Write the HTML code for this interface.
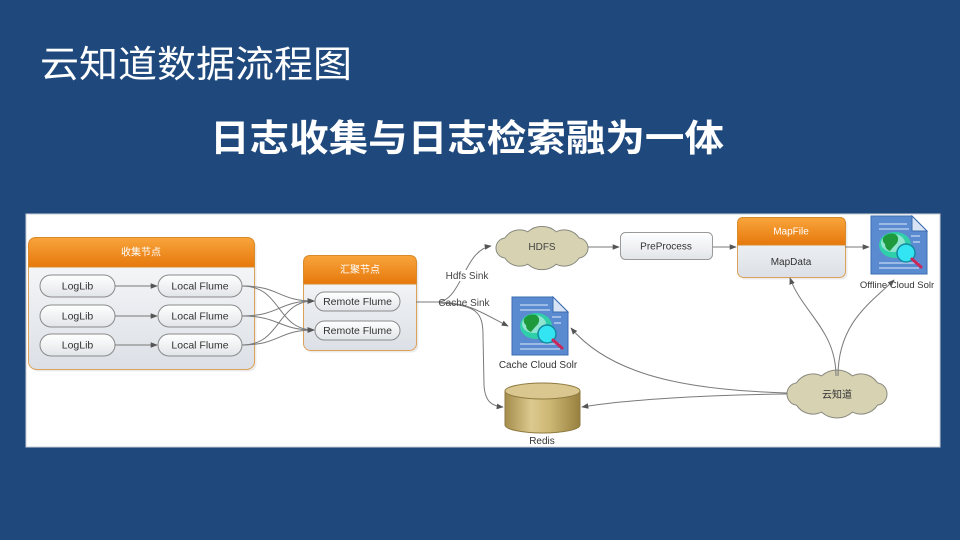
<!DOCTYPE html>
<html>
<head>
<meta charset="utf-8">
<style>
html,body{margin:0;padding:0;background:#1F497D;}
body{width:960px;height:540px;overflow:hidden;}
svg{display:block;}
.t{font-family:"Liberation Sans","Noto Sans CJK SC",sans-serif;}
</style>
</head>
<body>
<svg width="960" height="540" viewBox="0 0 960 540" xmlns="http://www.w3.org/2000/svg">
<defs>
  <linearGradient id="og" x1="0" y1="0" x2="0" y2="1">
    <stop offset="0" stop-color="#f8a53c"/>
    <stop offset="1" stop-color="#e6780c"/>
  </linearGradient>
  <linearGradient id="bg" x1="0" y1="0" x2="0" y2="1">
    <stop offset="0" stop-color="#fafbfc"/>
    <stop offset="1" stop-color="#dce0e6"/>
  </linearGradient>
  <linearGradient id="pg" x1="0" y1="0" x2="0" y2="1">
    <stop offset="0" stop-color="#ffffff"/>
    <stop offset="1" stop-color="#e2e5e9"/>
  </linearGradient>
  <linearGradient id="cyl" x1="0" y1="0" x2="1" y2="0">
    <stop offset="0" stop-color="#a48c4c"/>
    <stop offset="0.35" stop-color="#dcc98e"/>
    <stop offset="0.6" stop-color="#cdb774"/>
    <stop offset="1" stop-color="#98803f"/>
  </linearGradient>
  <marker id="ar" viewBox="0 0 10 10" refX="9" refY="5" markerWidth="7" markerHeight="7" orient="auto" markerUnits="userSpaceOnUse">
    <path d="M0,1 L10,5 L0,9 z" fill="#555"/>
  </marker>
  <g id="solr">
    <path d="M0,0 H41 L56,15 V58 H0 Z" fill="#5a8bd0" stroke="#3d6cb0" stroke-width="1"/>
    <path d="M41,0 V15 H56 Z" fill="#d8e4f5" stroke="#3d6cb0" stroke-width="1"/>
    <g stroke="#c4d6f2" stroke-width="1.3">
      <line x1="8" y1="8" x2="36" y2="8"/>
      <line x1="8" y1="13" x2="38" y2="13"/>
      <line x1="40" y1="20" x2="49" y2="20"/>
      <line x1="42" y1="26" x2="49" y2="26"/>
      <line x1="8" y1="47" x2="48" y2="47"/>
      <line x1="8" y1="52" x2="48" y2="52"/>
    </g>
    <ellipse cx="24" cy="29" rx="16" ry="13" fill="#2fcfa9"/>
    <ellipse cx="22" cy="27" rx="12" ry="9" fill="#dff7ee" opacity="0.55"/>
    <path d="M12,22 Q16,16 24,18 Q29,21 26,27 Q22,31 19,35 Q14,33 14,28 Q11,26 12,22 Z" fill="#1e9a3c"/>
    <circle cx="35" cy="37" r="9" fill="#33e4f2" stroke="#1489a0" stroke-width="1.5"/>
    <line x1="41" y1="43" x2="50" y2="51" stroke="#c8285a" stroke-width="3" stroke-linecap="round"/>
  </g>
</defs>

<!-- Titles -->
<text x="40" y="77" font-family="'Liberation Sans','Noto Sans CJK SC',sans-serif" font-size="37" fill="#ffffff" textLength="312" lengthAdjust="spacingAndGlyphs">云知道数据流程图</text>
<text x="210" y="151" font-family="'Liberation Sans','Noto Sans CJK SC',sans-serif" font-size="37" font-weight="bold" fill="#ffffff" textLength="514" lengthAdjust="spacingAndGlyphs">日志收集与日志检索融为一体</text>

<!-- Panel -->
<rect x="26" y="214" width="914" height="233" fill="#ffffff" stroke="#c9ced6" stroke-width="1"/>

<!-- Group 1: 收集节点 -->
<rect x="30.5" y="239.5" width="226" height="132" rx="8" fill="#000" opacity="0.08"/>
<rect x="28.5" y="237.5" width="226" height="132" rx="8" fill="url(#bg)" stroke="#dba25a" stroke-width="1"/>
<path d="M28.5,267 V245.5 Q28.5,237.5 36.5,237.5 H246.5 Q254.5,237.5 254.5,245.5 V267 Z" fill="url(#og)" stroke="#d98a2a" stroke-width="1"/>
<text class="t" x="141" y="255.5" font-size="10" fill="#ffffff" text-anchor="middle">收集节点</text>

<g class="t" font-size="10.5" fill="#333" text-anchor="middle">
  <rect x="40" y="275" width="75" height="22" rx="11" fill="url(#pg)" stroke="#8a8a8a"/>
  <text x="77.5" y="289.5">LogLib</text>
  <rect x="40" y="305" width="75" height="22" rx="11" fill="url(#pg)" stroke="#8a8a8a"/>
  <text x="77.5" y="319.5">LogLib</text>
  <rect x="40" y="334" width="75" height="22" rx="11" fill="url(#pg)" stroke="#8a8a8a"/>
  <text x="77.5" y="348.5">LogLib</text>

  <rect x="158" y="275" width="84" height="22" rx="11" fill="url(#pg)" stroke="#8a8a8a"/>
  <text x="200" y="289.5">Local Flume</text>
  <rect x="158" y="305" width="84" height="22" rx="11" fill="url(#pg)" stroke="#8a8a8a"/>
  <text x="200" y="319.5">Local Flume</text>
  <rect x="158" y="334" width="84" height="22" rx="11" fill="url(#pg)" stroke="#8a8a8a"/>
  <text x="200" y="348.5">Local Flume</text>
</g>

<g stroke="#777" stroke-width="1" fill="none" marker-end="url(#ar)">
  <line x1="115" y1="286" x2="157" y2="286"/>
  <line x1="115" y1="316" x2="157" y2="316"/>
  <line x1="115" y1="345" x2="157" y2="345"/>
</g>

<!-- Group 2: 汇聚节点 -->
<rect x="305.5" y="257.5" width="113" height="95" rx="7" fill="#000" opacity="0.08"/>
<rect x="303.5" y="255.5" width="113" height="95" rx="7" fill="url(#bg)" stroke="#dba25a" stroke-width="1"/>
<path d="M303.5,284 V262.5 Q303.5,255.5 310.5,255.5 H409.5 Q416.5,255.5 416.5,262.5 V284 Z" fill="url(#og)" stroke="#d98a2a" stroke-width="1"/>
<text class="t" x="360" y="273" font-size="10" fill="#ffffff" text-anchor="middle">汇聚节点</text>
<g class="t" font-size="10.5" fill="#333" text-anchor="middle">
  <rect x="315" y="292" width="85" height="19" rx="9.5" fill="url(#pg)" stroke="#8a8a8a"/>
  <text x="357.5" y="305">Remote Flume</text>
  <rect x="315" y="321" width="85" height="19" rx="9.5" fill="url(#pg)" stroke="#8a8a8a"/>
  <text x="357.5" y="334">Remote Flume</text>
</g>

<!-- Local -> Remote crossing curves -->
<g stroke="#7a7a7a" stroke-width="1" fill="none" marker-end="url(#ar)">
  <path d="M242,286 C280,286 278,301 314,301"/>
  <path d="M242,286 C282,286 276,330 314,330"/>
  <path d="M242,316 C280,316 278,301 314,301"/>
  <path d="M242,316 C280,316 278,330 314,330"/>
  <path d="M242,345 C282,345 276,301 314,301"/>
  <path d="M242,345 C280,345 278,330 314,330"/>
</g>

<!-- HDFS cloud -->
<path d="M588,248 A10,10 0 0 1 579.2,258 A17.9,17.9 0 0 1 556.2,264.2 A21.3,21.3 0 0 1 527.8,264.2 A17.9,17.9 0 0 1 504.8,258 A10,10 0 0 1 496,248 A10,10 0 0 1 504.8,238 A17.9,17.9 0 0 1 527.8,231.8 A21.3,21.3 0 0 1 556.2,231.8 A17.9,17.9 0 0 1 579.2,238 A10,10 0 0 1 588,248 Z" fill="#d6d2b2" stroke="#8a8a80" stroke-width="1"/>
<text class="t" x="542" y="250" font-size="10" fill="#444" text-anchor="middle">HDFS</text>

<!-- PreProcess -->
<rect x="620.5" y="232.5" width="92" height="27" rx="5" fill="url(#pg)" stroke="#9a9a9a"/>
<text class="t" x="666" y="249.5" font-size="10" fill="#333" text-anchor="middle">PreProcess</text>

<!-- MapFile -->
<rect x="739.5" y="219.5" width="108" height="60" rx="6" fill="#000" opacity="0.08"/>
<rect x="737.5" y="217.5" width="108" height="60" rx="6" fill="url(#bg)" stroke="#dba25a" stroke-width="1"/>
<path d="M737.5,245 V223.5 Q737.5,217.5 743.5,217.5 H839.5 Q845.5,217.5 845.5,223.5 V245 Z" fill="url(#og)" stroke="#d98a2a" stroke-width="1"/>
<text class="t" x="791" y="234.5" font-size="10" fill="#ffffff" text-anchor="middle">MapFile</text>
<text class="t" x="791" y="265" font-size="10" fill="#333" text-anchor="middle">MapData</text>

<!-- Solr icons -->
<use href="#solr" x="512" y="297"/>
<text class="t" x="538" y="368" font-size="10" fill="#333" text-anchor="middle">Cache Cloud Solr</text>
<use href="#solr" x="871" y="216"/>
<text class="t" x="897" y="288" font-size="9.5" fill="#333" text-anchor="middle">Offline Cloud Solr</text>

<!-- Redis cylinder -->
<path d="M505,391 V425 A37.5,8 0 0 0 580,425 V391 Z" fill="url(#cyl)" stroke="#8f7a40" stroke-width="1"/>
<ellipse cx="542.5" cy="391" rx="37.5" ry="8" fill="#d9c78f" stroke="#8f7a40" stroke-width="1"/>
<text class="t" x="542" y="444" font-size="10" fill="#333" text-anchor="middle">Redis</text>

<!-- 云知道 cloud -->
<path d="M887,394 A11,11 0 0 1 877.45,405.17 A19.5,19.5 0 0 1 852.45,412.07 A23.2,23.2 0 0 1 821.55,412.07 A19.5,19.5 0 0 1 796.55,405.17 A11,11 0 0 1 787,394 A11,11 0 0 1 796.55,382.83 A19.5,19.5 0 0 1 821.55,375.93 A23.2,23.2 0 0 1 852.45,375.93 A19.5,19.5 0 0 1 877.45,382.83 A11,11 0 0 1 887,394 Z" fill="#d6d2b2" stroke="#8a8a80" stroke-width="1"/>
<text class="t" x="837" y="398" font-size="10" fill="#333" text-anchor="middle">云知道</text>

<!-- Connectors -->
<g stroke="#7a7a7a" stroke-width="1" fill="none">
  <line x1="416" y1="302" x2="440" y2="302"/>
</g>
<g stroke="#7a7a7a" stroke-width="1" fill="none" marker-end="url(#ar)">
  <path d="M438,302 C462,300 464,250 491,246"/>
  <path d="M438,302 C470,303 480,312 508,326"/>
  <path d="M440,303 C476,305 483,312 483,335 L484,385 C485,402 492,406 503,407"/>
  <line x1="588" y1="247" x2="619" y2="247"/>
  <line x1="713" y1="247" x2="736" y2="247"/>
  <line x1="845" y1="247" x2="869" y2="247"/>
  <path d="M787,393 C700,390 615,380 571,328"/>
  <path d="M787,394 C700,395 625,400 582,407"/>
  <path d="M836,376 C836,330 802,312 790,278"/>
  <path d="M838,376 C838,322 872,302 894,280"/>
</g>

<!-- connector labels -->
<rect x="446" y="270" width="42" height="11" fill="#ffffff"/>
<text class="t" x="467" y="279" font-size="10" fill="#444" text-anchor="middle">Hdfs Sink</text>
<text class="t" x="464" y="306" font-size="10" fill="#444" text-anchor="middle">Cache Sink</text>
</svg>
</body>
</html>
